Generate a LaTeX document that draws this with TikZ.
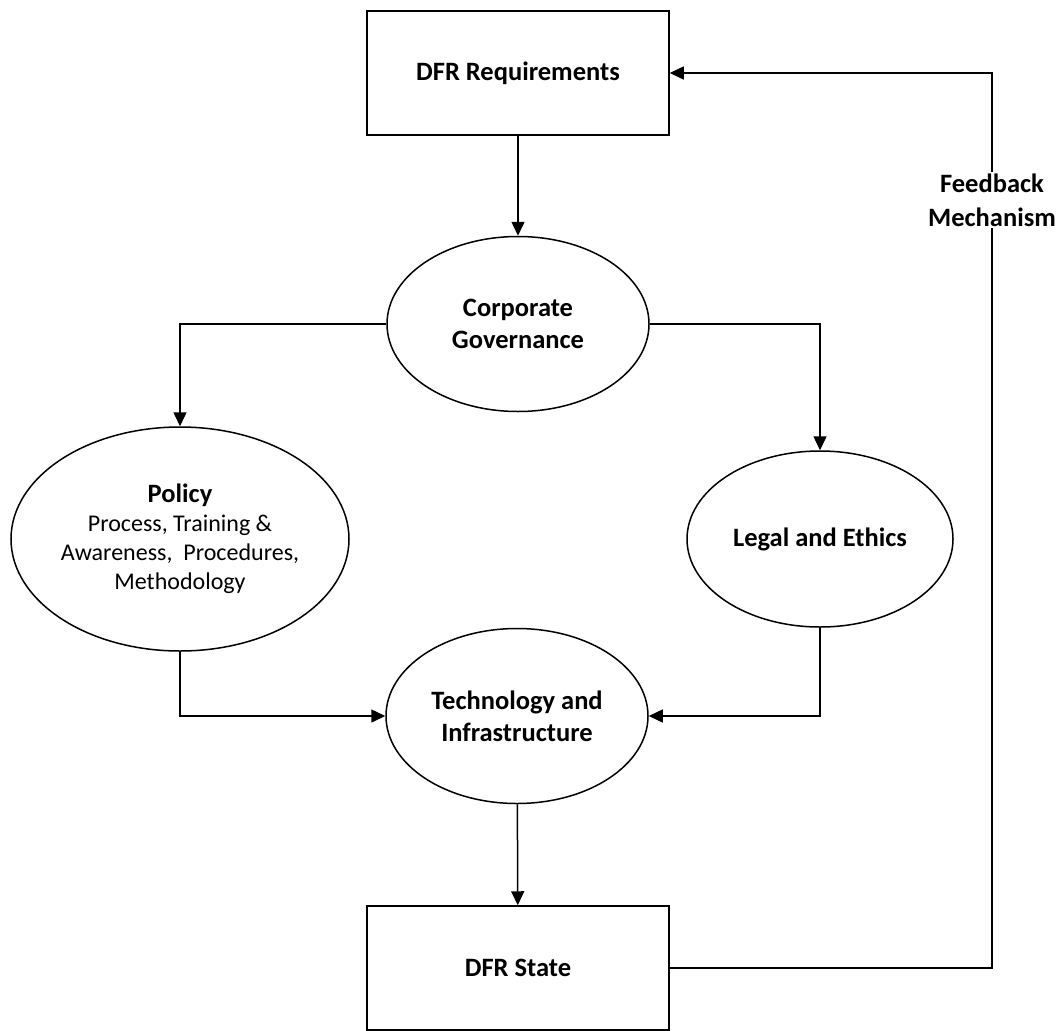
\documentclass[tikz,border=0pt]{standalone}
\usepackage{fontspec}
\setmainfont{Carlito}
\usepackage{tikz}
\usetikzlibrary{arrows.meta,shapes.geometric}

\newcommand{\desc}[1]{{\fontsize{24}{29}\selectfont\mdseries #1}}

\begin{document}
\begin{tikzpicture}[x=1pt,y=-1pt,
 box/.style={draw,line width=1.5pt,minimum width=302pt,minimum height=124pt,inner sep=0pt,
             align=center,font=\fontsize{26.5}{32}\selectfont\bfseries},
 oval/.style={draw,ellipse,line width=1.5pt,inner sep=0pt,align=center,
             font=\fontsize{26.5}{32}\selectfont\bfseries},
 arr/.style={-{Triangle[length=14pt,width=13pt]},line width=1.5pt},
 note/.style={fill=white,inner sep=2pt,align=center,font=\fontsize{26.5}{34}\selectfont\bfseries}
]
\useasboundingbox (0,0) rectangle (1059,1030);

\node[box] (req) at (518,73) {DFR Requirements};
\node[oval,minimum width=262pt,minimum height=175pt] (corp) at (518,324) {Corporate\\Governance};
\node[oval,minimum width=338pt,minimum height=224pt] (policy) at (180,539)
  {Policy\\[-3pt]\desc{Process, Training \&}\\[-3pt]\desc{Awareness,\ \ Procedures,}\\[-3pt]\desc{Methodology}};
\node[oval,minimum width=266pt,minimum height=176pt] (legal) at (820,539) {Legal and Ethics};
\node[oval,minimum width=262pt,minimum height=175pt] (tech) at (517,716) {Technology and\\Infrastructure};
\node[box] (state) at (518,968) {DFR State};
\coordinate (fb) at (992,73);

\draw[arr] (req)--(corp);
\draw[arr] (corp.west) -| (policy.north);
\draw[arr] (corp.east) -| (legal.north);
\draw[arr] (policy.south) |- (tech.west);
\draw[arr] (legal.south) |- (tech.east);
\draw[arr] (tech)--(state);
\draw[arr] (state.east) -| (fb) -- (req.east);

\node[note] (fbl) at (992,200) {Feedback\\Mechanism};
\end{tikzpicture}
\end{document}
